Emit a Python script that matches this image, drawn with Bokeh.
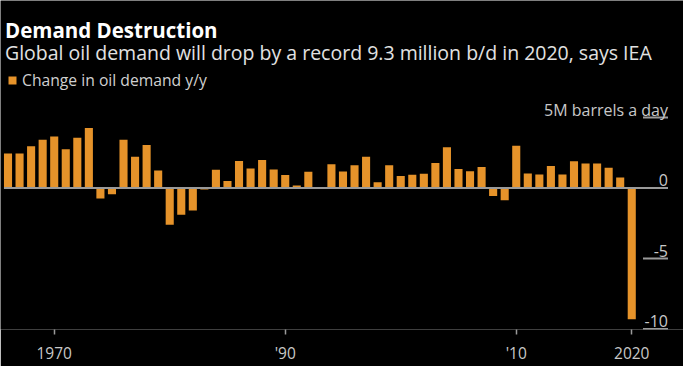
from bokeh.plotting import figure
from bokeh.models import Range1d, Label, FixedTicker, Legend, LegendItem, ColumnDataSource
from bokeh.embed import file_html
from bokeh.resources import INLINE

# ---------------- data ----------------
years = list(range(1966, 2021))
change = [
    2.45, 2.45, 2.96, 3.43, 3.66, 2.75, 3.56, 4.26, -0.74, -0.44,   # 1966-1975
    3.43, 2.22, 3.06, 1.25, -2.60, -1.90, -1.60, -0.10, 1.30, 0.50,  # 1976-1985
    1.92, 1.39, 1.99, 1.32, 0.93, 0.19, 1.16, -0.07, 1.69, 1.18,     # 1986-1995
    1.62, 2.22, 0.42, 1.62, 0.86, 0.95, 1.02, 1.78, 2.89, 1.36,      # 1996-2005
    1.20, 1.50, -0.56, -0.86, 3.00, 1.04, 0.97, 1.57, 0.97, 1.90,    # 2006-2015
    1.74, 1.74, 1.44, 0.74, -9.30,                                   # 2016-2020
]
x_ticks = [1970, 1990, 2010, 2020]
x_tick_labels = ["1970", "'90", "'10", "2020"]
y_ticks = [5, 0, -5, -10]
y_tick_labels = ["5M barrels a day", "0", "-5", "-10"]

TITLE = "Demand Destruction"
SUBTITLE = "Global oil demand will drop by a record 9.3 million b/d in 2020, says IEA"
LEGEND_LABEL = "Change in oil demand y/y"

# ---------------- style ----------------
ORANGE = "#E6932A"
GRID = "#9a9a9a"
FONT = "Open Sans"

W, H = 683, 366
FRAME_H = 336
X0, X1 = 1965.35, 2024.48
Y0, Y1 = -10.03, 13.30


def sx(page_x):
    return X0 + (page_x - 8) / W * (X1 - X0)


def sy(page_y):
    return Y1 - (page_y - 8) / FRAME_H * (Y1 - Y0)


source = ColumnDataSource(dict(year=years, change=change))

p = figure(width=W, height=H, x_range=Range1d(X0, X1), y_range=Range1d(Y0, Y1),
           output_backend="svg", toolbar_location=None, y_axis_location=None,
           min_border=0, min_border_bottom=30,
           background_fill_color="black", border_fill_color="black",
           outline_line_color=None)
p.xgrid.visible = False
p.ygrid.visible = False

ax = p.xaxis[0]
ax.ticker = FixedTicker(ticks=x_ticks)
ax.major_label_overrides = {t: l for t, l in zip(x_ticks, x_tick_labels)}
ax.axis_line_color = None
ax.major_tick_line_color = GRID
ax.major_tick_line_width = 1.5
ax.major_tick_out = 5
ax.major_tick_in = 0
ax.minor_tick_line_color = None
ax.major_label_text_color = "#c8c8c8"
ax.major_label_text_font = FONT
ax.major_label_text_font_size = "15.5px"
ax.major_label_standoff = 7

bars = p.vbar(x="year", top="change", bottom=0, width=0.7, source=source,
              fill_color=ORANGE, line_color=None)

# horizontal reference lines: zero across, others short at right
line_x_end = sx(675.5)
x0s = [sx(650.5) if v != 0 else years[0] - 0.35 for v in y_ticks]
p.segment(x0=x0s, y0=y_ticks, x1=[line_x_end] * len(y_ticks), y1=y_ticks,
          line_color=GRID, line_width=2)

for v, t in zip(y_ticks, y_tick_labels):
    p.add_layout(Label(x=line_x_end, y=v, text=t, text_align="right",
                       text_baseline="alphabetic", y_offset=8,
                       text_font=FONT, text_font_size="16px", text_color="#c8c8c8"))

p.add_layout(Label(x=sx(12.5), y=sy(37.7), text=TITLE, text_align="left",
                   text_baseline="alphabetic", text_font=FONT, text_font_style="bold",
                   text_font_size="20.5px", text_color="white"))
p.add_layout(Label(x=sx(12.5), y=sy(61.5), text=SUBTITLE, text_align="left",
                   text_baseline="alphabetic", text_font=FONT,
                   text_font_size="19.5px", text_color="#e2e2e2"))

legend = Legend(items=[LegendItem(label=LEGEND_LABEL, renderers=[bars])],
                location=(7, 238), padding=0, margin=0, spacing=0,
                glyph_width=10, glyph_height=10, label_height=10, label_standoff=5,
                background_fill_alpha=0, border_line_color=None,
                label_text_font=FONT, label_text_font_size="15.7px",
                label_text_color="#d0d0d0")
p.add_layout(legend)

html = file_html(p, INLINE)
html = html.replace("<body>", '<body style="background-color:#000000;">', 1)
open("out.html", "w").write(html)
